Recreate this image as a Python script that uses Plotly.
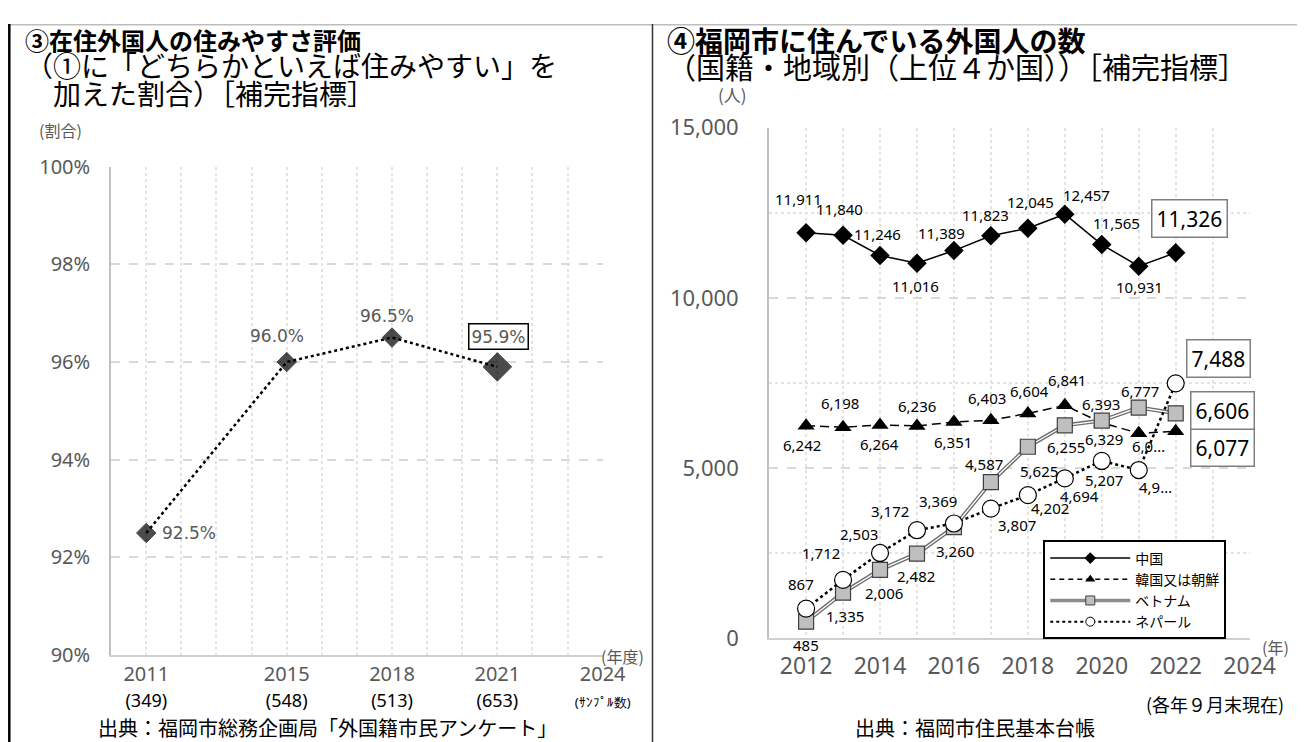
import plotly.graph_objects as go

# the photo of the page comes out slightly shrunk and shifted, so layout
# positions below are given in target picture pixels and mapped back here
FW, FH = 1330, 752
AX, BX = 4.5, 0.982
AY, BY = 21.0, 0.963

# ③ 在住外国人の住みやすさ評価
survey_years = [2011, 2015, 2018, 2021]
survey_rate = [92.5, 96.0, 96.5, 95.9]
sample_size = [349, 548, 513, 653]
survey_tick_years = [2011, 2015, 2018, 2021, 2024]

# ④ 福岡市に住んでいる外国人の数
years = [2012, 2013, 2014, 2015, 2016, 2017, 2018, 2019, 2020, 2021, 2022]
china = [11911, 11840, 11246, 11016, 11389, 11823, 12045, 12457, 11565, 10931, 11326]
korea = [6242, 6198, 6264, 6236, 6351, 6403, 6604, 6841, 6329, 6020, 6077]
vietnam = [485, 1335, 2006, 2482, 3260, 4587, 5625, 6255, 6393, 6777, 6606]
nepal = [867, 1712, 2503, 3172, 3369, 3807, 4202, 4694, 5207, 4940, 7488]
cut_labels = {('korea', 2021): '6,0…', ('nepal', 2021): '4,9…'}

GRAY = '#595959'
JP = 'Noto Sans CJK JP'
NUM = 'Noto Sans'


def px(x):
    return ((x - AX) / BX) / FW


def py(y):
    return 1 - ((y - AY) / BY) / FH


fig = go.Figure()

# left chart
fig.add_trace(go.Scatter(
    x=survey_years, y=survey_rate, xaxis='x', yaxis='y', mode='lines+markers',
    line=dict(color='black', width=2.5, dash='dot'),
    marker=dict(symbol='diamond', size=[15, 15, 15, 22], color='black',
                line=dict(color='black', width=1)),
    showlegend=False, hoverinfo='skip'))

# right chart
china_style = dict(line=dict(color='black', width=1.5),
                   marker=dict(symbol='diamond', size=15, color='black'))
korea_style = dict(line=dict(color='black', width=1.5, dash='9px,5px'),
                   marker=dict(symbol='triangle-up', size=15, color='black'))
viet_marker = dict(symbol='square', size=15, color='#bfbfbf', line=dict(color='#404040', width=1.2))
nepal_style = dict(line=dict(color='black', width=2.5, dash='dot'),
                   marker=dict(symbol='circle', size=17, color='white', line=dict(color='black', width=1.2)))

fig.add_trace(go.Scatter(x=years, y=china, xaxis='x2', yaxis='y2', mode='lines+markers',
                         showlegend=False, hoverinfo='skip', **china_style))
fig.add_trace(go.Scatter(x=years, y=korea, xaxis='x2', yaxis='y2', mode='lines+markers',
                         showlegend=False, hoverinfo='skip', **korea_style))
fig.add_trace(go.Scatter(x=years, y=vietnam, xaxis='x2', yaxis='y2', mode='lines',
                         showlegend=False, hoverinfo='skip', line=dict(color='#6e6e6e', width=4)))
fig.add_trace(go.Scatter(x=years, y=vietnam, xaxis='x2', yaxis='y2', mode='lines',
                         showlegend=False, hoverinfo='skip', line=dict(color='white', width=1.3)))
fig.add_trace(go.Scatter(x=years, y=vietnam, xaxis='x2', yaxis='y2', mode='markers',
                         showlegend=False, hoverinfo='skip', marker=viet_marker))
fig.add_trace(go.Scatter(x=years, y=nepal, xaxis='x2', yaxis='y2', mode='lines+markers',
                         showlegend=False, hoverinfo='skip', **nepal_style))

# legend-only entries with the small symbols of the original legend
legend_items = [
    ('中国', dict(color='black', width=1.5), dict(symbol='diamond', size=9, color='black')),
    ('韓国又は朝鮮', dict(color='black', width=1.5, dash='5px,4px'),
     dict(symbol='triangle-up', size=9, color='black')),
    ('ベトナム', dict(color='#8c8c8c', width=3.5),
     dict(symbol='square', size=9, color='#bfbfbf', line=dict(color='#404040', width=1))),
    ('ネパール', dict(color='black', width=2, dash='dot'),
     dict(symbol='circle', size=9, color='white', line=dict(color='black', width=1))),
]
for name, line, marker in legend_items:
    fig.add_trace(go.Scatter(x=[None], y=[None], xaxis='x2', yaxis='y2', mode='lines+markers',
                             name=name, line=line, marker=marker, hoverinfo='skip'))

ann = []

# left data labels
left_off = [(14, 0), (-10, 26), (-5, 22)]
for i, (dx, dy) in enumerate(left_off):
    ann.append(dict(x=survey_years[i], y=survey_rate[i], xref='x', yref='y',
                    text=f'{survey_rate[i]:.1f}%', showarrow=False,
                    xanchor='left' if i == 0 else 'center', xshift=dx, yshift=dy,
                    font=dict(family='DejaVu Sans', size=17, color=GRAY)))
ann.append(dict(x=survey_years[-1], y=survey_rate[-1], xref='x', yref='y',
                text=f'{survey_rate[-1]:.1f}%', showarrow=False, xshift=1, yshift=30,
                bordercolor='black', borderwidth=1.5, borderpad=2, bgcolor='white',
                font=dict(family='DejaVu Sans', size=17, color=GRAY)))

# right data labels (offsets in px)
offsets = {
    'china': [(-8, 34), (-4, 26), (-3, 21), (-1, -23), (-12, 18), (-5, 21), (3, 26), (22, 19), (15, 22), (1, -21)],
    'korea': [(-4, -19), (-3, 24), (-1, -19), (0, 20), (-1, -20), (-4, 22), (2, 22), (2, 25), (2, -16), (10, -13)],
    'vietnam': [(0, -23), (2, -23), (4, -23), (-1, -22), (1, -24), (-7, 18), (11, -24), (1, -22), (-1, 17), (1, 17)],
    'nepal': [(-5, 25), (-22, 27), (-21, 19), (-27, 19), (-16, 22), (26, -16), (22, -13), (15, -18), (2, -19), (17, -17)],
}
box_off = {'china': (14, 34), 'korea': (47, -16), 'vietnam': (47, 3), 'nepal': (43, 25)}
series = {'china': china, 'korea': korea, 'vietnam': vietnam, 'nepal': nepal}

for key, vals in series.items():
    for i, (dx, dy) in enumerate(offsets[key]):
        txt = cut_labels.get((key, years[i]), f'{vals[i]:,}')
        ann.append(dict(x=years[i], y=vals[i], xref='x2', yref='y2', text=txt,
                        showarrow=False, xshift=dx, yshift=dy,
                        font=dict(family=NUM, size=15, color='black')))
    dx, dy = box_off[key]
    ann.append(dict(x=years[-1], y=vals[-1], xref='x2', yref='y2', text=f'{vals[-1]:,}',
                    showarrow=False, xshift=dx, yshift=dy,
                    bordercolor='#7f7f7f', borderwidth=1.5, borderpad=4, bgcolor='white',
                    font=dict(family=NUM, size=21, color='black')))


# titles and notes
def note(x, y, text, size, color='black', anchor='left', family=JP):
    ann.append(dict(x=px(x), y=py(y), xref='paper', yref='paper', text=text, showarrow=False,
                    xanchor=anchor, yanchor='middle', font=dict(family=family, size=size, color=color)))


note(20, 37, '<b>③在住外国人の住みやすさ評価</b>', 24)
note(20, 62, '（①に「どちらかといえば住みやすい」を', 28)
note(20, 90, '　加えた割合）［補完指標］', 28)
note(664, 37, '<b>④福岡市に住んでいる外国人の数</b>', 28)
note(664, 63, '（国籍・地域別（上位４か国））［補完指標］', 29)
note(34, 127, '(割合)', 16, GRAY)
note(731, 92, '(人)', 17, GRAY, 'center')
note(621, 655, '(年度)', 16, GRAY, 'center')
note(1276, 646, '(年)', 16, GRAY, 'center')
note(1215, 703, '(各年９月末現在)', 18, 'black', 'center')
note(325, 727, '出典：福岡市総務企画局「外国籍市民アンケート」', 20, 'black', 'center')
note(975, 727, '出典：福岡市住民基本台帳', 20, 'black', 'center')

# tick texts
left_ticks = list(range(2010, 2025))
left_text = []
for yr in left_ticks:
    if yr in survey_years:
        n = sample_size[survey_years.index(yr)]
        left_text.append(f"{yr}<br><span style='font-size:18px;color:black'>({n})</span>")
    elif yr in survey_tick_years:
        left_text.append(f"{yr}<br><span style='font-size:13px;color:black'>(ｻﾝﾌﾟﾙ数)</span>")
    else:
        left_text.append('')

right_ticks = list(range(2012, 2025))
right_text = [str(y) if y % 2 == 0 else '' for y in right_ticks]

grid_dash = dict(gridcolor='#d9d9d9', griddash='dash', gridwidth=1.5)
grid_dot = dict(gridcolor='#e3e3e3', griddash='dot', gridwidth=1.5)

fig.update_layout(
    width=FW, height=FH, autosize=False,
    margin=dict(l=0, r=0, t=0, b=0),
    paper_bgcolor='white', plot_bgcolor='white',
    font=dict(family=JP, color=GRAY),
    xaxis=dict(domain=[px(108), px(601)], range=[2010, 2024], anchor='y',
               tickvals=left_ticks, ticktext=left_text, showgrid=True, **grid_dot,
               showline=True, linecolor='#d0d0d0', linewidth=1.5, zeroline=False,
               ticks='', tickfont=dict(family=NUM, size=20, color=GRAY), ticklabelstandoff=0),
    yaxis=dict(domain=[py(654), py(164)], range=[90, 100], anchor='x',
               tickvals=[90, 92, 94, 96, 98, 100], ticktext=['90%', '92%', '94%', '96%', '98%', '100%'],
               showgrid=True, **grid_dash, showline=True, linecolor='#c0c0c0', linewidth=2,
               zeroline=False, ticks='', tickfont=dict(family=NUM, size=20, color=GRAY),
               ticklabelstandoff=15),
    xaxis2=dict(domain=[px(768), px(1250)], range=[2011, 2024], anchor='y2',
                tickvals=right_ticks, ticktext=right_text, showgrid=True, **grid_dot,
                showline=True, linecolor='#d0d0d0', linewidth=1.5, zeroline=False,
                ticks='', tickfont=dict(family=NUM, size=23, color=GRAY), ticklabelstandoff=7),
    yaxis2=dict(domain=[py(637), py(125)], range=[0, 15000], anchor='x2',
                tickvals=[0, 5000, 10000, 15000], ticktext=['0', '5,000', '10,000', '15,000'],
                showgrid=True, **grid_dash, showline=True, linecolor='#c0c0c0', linewidth=2,
                zeroline=False, ticks='', tickfont=dict(family=NUM, size=22, color=GRAY),
                ticklabelstandoff=24,
                minor=dict(tickvals=[2500, 7500, 12500], showgrid=True, **grid_dot)),
    legend=dict(x=px(1043), y=py(539), xanchor='left', yanchor='top',
                bordercolor='black', borderwidth=2, bgcolor='white',
                font=dict(family=JP, size=14, color='black'),
                itemwidth=80, tracegroupgap=0),
    annotations=ann,
    shapes=[
        dict(type='line', xref='paper', yref='paper', x0=0, x1=1, y0=0.999, y1=0.999,
             line=dict(color='#bdbdbd', width=1.5)),
        dict(type='line', xref='paper', yref='paper', x0=0.001, x1=0.001, y0=0, y1=1,
             line=dict(color='black', width=2.5)),
        dict(type='line', xref='paper', yref='paper', x0=px(651), x1=px(651), y0=0, y1=1,
             line=dict(color='#333333', width=1.5)),
    ],
)

fig.write_html("out.html")
